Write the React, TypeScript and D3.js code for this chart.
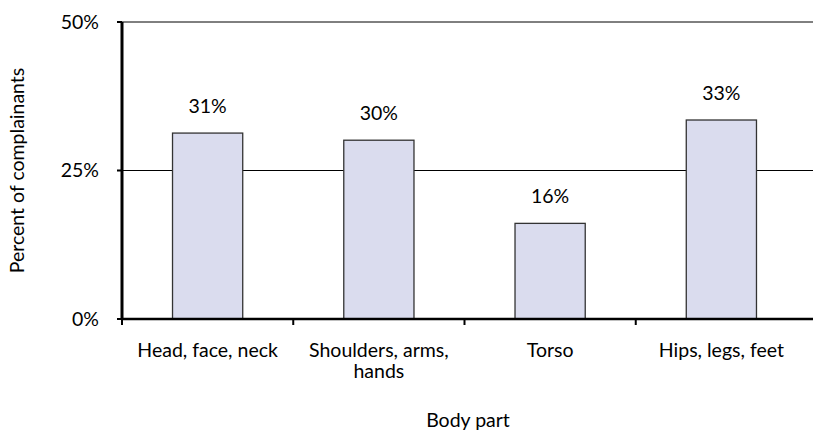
import { useEffect, useRef } from "react";
import * as d3 from "d3";

const categories = [["Head, face, neck"], ["Shoulders, arms,", "hands"], ["Torso"], ["Hips, legs, feet"]];
const values = [31.3, 30.1, 16.1, 33.5];
const valueLabels = ["31%", "30%", "16%", "33%"];
const yTicks = [0, 25, 50];

export default function App() {
  const svgRef = useRef<SVGSVGElement>(null);

  useEffect(() => {
    if (!svgRef.current) return;
    const svg = d3.select(svgRef.current);
    svg.selectAll("*").remove();

    const font = "Lato, 'Open Sans', sans-serif";
    const fs = 19.5;
    const left = 122;
    const right = 807;
    const top = 22;
    const bottom = 319;

    const x = d3
      .scaleBand<number>()
      .domain(d3.range(values.length))
      .range([left, right])
      .paddingInner(0.59)
      .paddingOuter(0.295);
    const y = d3.scaleLinear().domain([0, 50]).range([bottom, top]);
    const step = x.step();

    // gridlines
    yTicks.filter((t) => t > 0).forEach((t) => {
      svg.append("line")
        .attr("x1", left).attr("x2", 813)
        .attr("y1", y(t)).attr("y2", y(t))
        .attr("stroke", "#000").attr("stroke-width", 1);
    });

    // bars
    values.forEach((v, i) => {
      svg.append("rect")
        .attr("x", x(i)!)
        .attr("y", y(v))
        .attr("width", x.bandwidth())
        .attr("height", y(0) - y(v))
        .attr("fill", "#dadcee")
        .attr("stroke", "#333")
        .attr("stroke-width", 1.3);

      svg.append("text")
        .attr("x", x(i)! + x.bandwidth() / 2)
        .attr("y", y(v) - 20)
        .attr("text-anchor", "middle")
        .attr("font-family", font)
        .attr("font-size", fs)
        .attr("fill", "#000")
        .text(valueLabels[i]);
    });

    // y axis
    svg.append("line")
      .attr("x1", left).attr("x2", left)
      .attr("y1", top).attr("y2", bottom + 1)
      .attr("stroke", "#000").attr("stroke-width", 3);
    yTicks.forEach((t) => {
      svg.append("line")
        .attr("x1", left - 5).attr("x2", left)
        .attr("y1", y(t)).attr("y2", y(t))
        .attr("stroke", "#000").attr("stroke-width", 2);
      svg.append("text")
        .attr("x", 99)
        .attr("y", y(t))
        .attr("dy", "0.35em")
        .attr("text-anchor", "end")
        .attr("font-family", font)
        .attr("font-size", fs)
        .text(`${t}%`);
    });

    // x axis
    svg.append("line")
      .attr("x1", left).attr("x2", 813)
      .attr("y1", bottom).attr("y2", bottom)
      .attr("stroke", "#000").attr("stroke-width", 2.5);
    d3.range(values.length).forEach((i) => {
      const tx = left + i * step;
      svg.append("line")
        .attr("x1", tx).attr("x2", tx)
        .attr("y1", bottom).attr("y2", bottom + 6)
        .attr("stroke", "#000").attr("stroke-width", 2);
    });

    categories.forEach((lines, i) => {
      const cx = x(i)! + x.bandwidth() / 2;
      const t = svg.append("text")
        .attr("x", cx)
        .attr("y", 357)
        .attr("text-anchor", "middle")
        .attr("font-family", font)
        .attr("font-size", fs);
      lines.forEach((ln, j) => {
        t.append("tspan")
          .attr("x", cx)
          .attr("dy", j === 0 ? 0 : 21)
          .text(ln);
      });
    });

    // axis titles
    svg.append("text")
      .attr("transform", `translate(24,${(top + bottom) / 2}) rotate(-90)`)
      .attr("text-anchor", "middle")
      .attr("font-family", font)
      .attr("font-size", fs)
      .text("Percent of complainants");

    svg.append("text")
      .attr("x", 468)
      .attr("y", 427)
      .attr("text-anchor", "middle")
      .attr("font-family", font)
      .attr("font-size", fs)
      .text("Body part");
  }, []);

  return (
    <svg
      ref={svgRef}
      width={813}
      height={434}
      style={{ position: "absolute", left: 0, top: 0, background: "#fff" }}
    />
  );
}
